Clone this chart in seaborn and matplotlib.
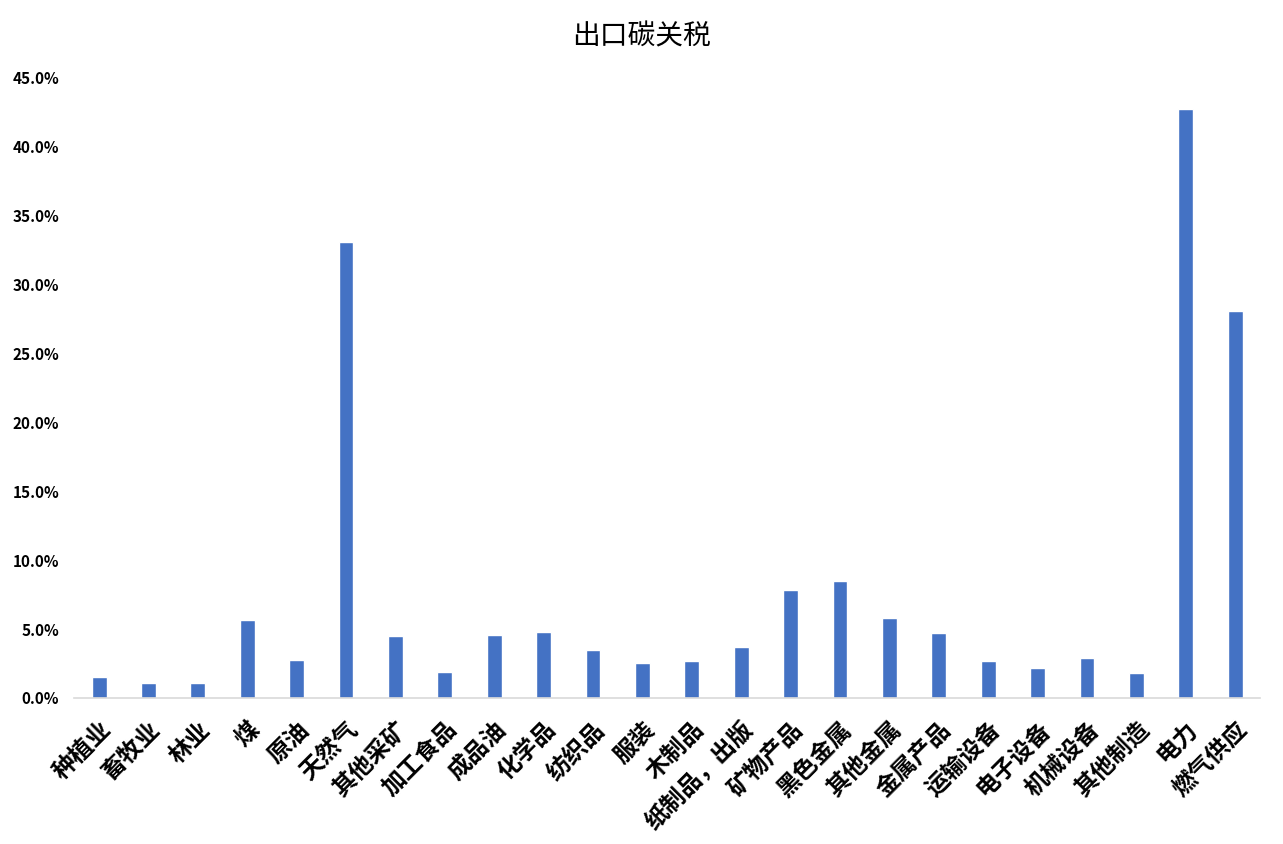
import pandas as pd
import matplotlib
matplotlib.use('Agg')
import matplotlib.pyplot as plt
import seaborn as sns
from matplotlib.ticker import PercentFormatter

# sectors and export carbon tariff rates (%)
sectors = ['种植业', '畜牧业', '林业', '煤', '原油', '天然气', '其他采矿', '加工食品',
           '成品油', '化学品', '纺织品', '服装', '木制品', '纸制品，出版', '矿物产品',
           '黑色金属', '其他金属', '金属产品', '运输设备', '电子设备', '机械设备',
           '其他制造', '电力', '燃气供应']
tariff = [1.53, 1.12, 1.07, 5.65, 2.75, 33.1, 4.48, 1.92,
          4.6, 4.82, 3.47, 2.53, 2.68, 3.68, 7.85,
          8.48, 5.82, 4.75, 2.68, 2.2, 2.92,
          1.84, 42.7, 28.1]
yticks = [0, 5, 10, 15, 20, 25, 30, 35, 40, 45]

df = pd.DataFrame({'sector': sectors, 'tariff': tariff})

sns.set_theme(style='white')
plt.rcParams['font.family'] = ['Noto Sans CJK SC', 'DejaVu Sans']

fig = plt.figure(figsize=(12.83, 8.44), dpi=100)
ax = fig.add_axes([0.058, 0.173, 0.924, 0.735])

sns.barplot(data=df, x='sector', y='tariff', color='#4472C4', width=0.3,
            saturation=1, ax=ax)

ax.set_ylim(0, 45)
ax.set_yticks(yticks)
ax.yaxis.set_major_formatter(PercentFormatter(decimals=1))
ax.set_xlim(-0.5, len(sectors) - 0.5)
ax.set_xlabel('')
ax.set_ylabel('')

for side in ['top', 'right', 'left']:
    ax.spines[side].set_visible(False)
ax.spines['bottom'].set_color('#d9d9d9')
ax.spines['bottom'].set_linewidth(1.2)
ax.tick_params(axis='both', length=0)
ax.tick_params(axis='y', pad=11)

for lbl in ax.get_yticklabels():
    lbl.set_fontsize(11)
    lbl.set_fontweight('bold')
    lbl.set_color('black')

ax.set_xticks(range(len(sectors)))
ax.set_xticklabels(sectors, rotation=45, ha='right', rotation_mode='anchor',
                   fontsize=17, fontweight='bold', color='black')
ax.tick_params(axis='x', pad=14)

fig.suptitle('出口碳关税', x=0.5, y=0.974, fontsize=20, color='black')

fig.savefig('out.png', dpi=100)
